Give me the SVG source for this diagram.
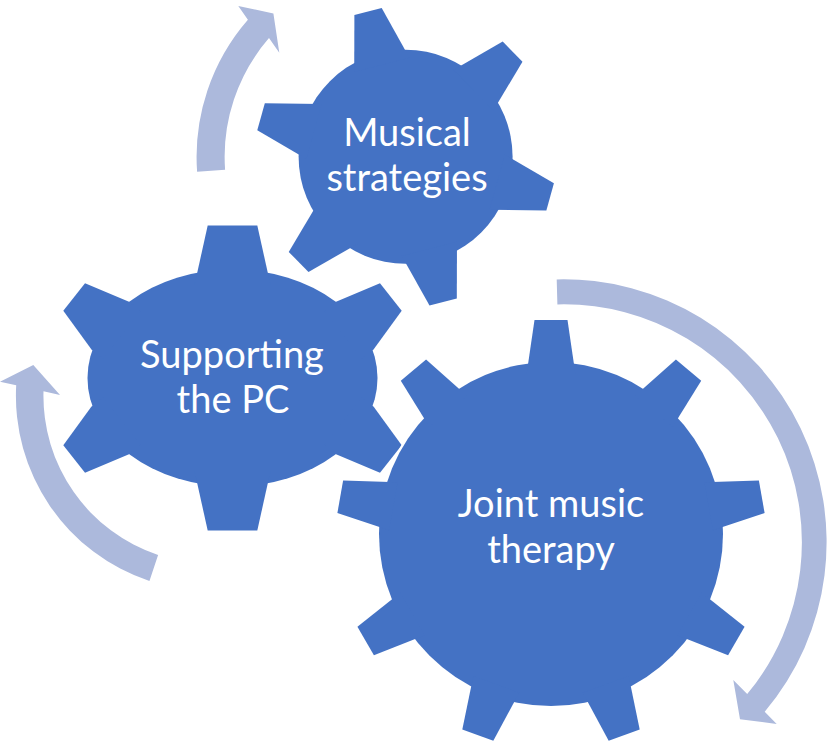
<svg xmlns="http://www.w3.org/2000/svg" xmlns:xlink="http://www.w3.org/1999/xlink" width="829" height="746" viewBox="0 0 829 746">
  <style>
    .outline { fill: #ffffff; stroke: #ffffff; stroke-width: 4; stroke-linejoin: round; }
    .gearfill { fill: #4472C4; stroke: none; }
    .arrow { fill: #ACB9DC; stroke: none; }
    .label { font-family: Lato, "Open Sans", "Liberation Sans", sans-serif; font-size: 38px; fill: #ffffff; text-anchor: middle; }
  </style>
  <defs>
    <path id="tooth9" d="M -16.5 -214 L 16.5 -214 L 24.4 -160 L -24.4 -160 Z"/>
    <path id="tooth6" d="M -14.1 -150 L 14.1 -150 L 28.5 -95 L -28.5 -95 Z"/>
    <g id="gearL">
      <circle cx="0" cy="0" r="172"/>
      <use href="#tooth9"/>
      <use href="#tooth9" transform="rotate(40)"/>
      <use href="#tooth9" transform="rotate(80)"/>
      <use href="#tooth9" transform="rotate(120)"/>
      <use href="#tooth9" transform="rotate(160)"/>
      <use href="#tooth9" transform="rotate(200)"/>
      <use href="#tooth9" transform="rotate(240)"/>
      <use href="#tooth9" transform="rotate(280)"/>
      <use href="#tooth9" transform="rotate(320)"/>
    </g>
    <g id="gearS">
      <circle cx="0" cy="0" r="107"/>
      <use href="#tooth6" transform="rotate(-14.5)"/>
      <use href="#tooth6" transform="rotate(45.5)"/>
      <use href="#tooth6" transform="rotate(105.5)"/>
      <use href="#tooth6" transform="rotate(165.5)"/>
      <use href="#tooth6" transform="rotate(225.5)"/>
      <use href="#tooth6" transform="rotate(285.5)"/>
    </g>
    <g id="gearM">
      <ellipse cx="232.5" cy="378" rx="145" ry="108.5"/>
      <path d="M 207.7 225.5 L 257.3 225.5 L 270.5 285 L 194.5 285 Z"/>
      <path d="M 207.7 530.5 L 257.3 530.5 L 270.5 471 L 194.5 471 Z"/>
      <path d="M 129 301.7 L 85 283.3 L 63.3 310.7 L 91.3 349.3 L 103.1 358.6 L 140.8 311 Z"/>
      <path d="M 336 301.7 L 380 283.3 L 401.7 310.7 L 373.7 349.3 L 361.9 358.6 L 324.2 311 Z"/>
      <path d="M 129 454.3 L 85 472.7 L 63.3 445.3 L 91.3 406.7 L 103.1 397.4 L 140.8 445 Z"/>
      <path d="M 336 454.3 L 380 472.7 L 401.7 445.3 L 373.7 406.7 L 361.9 397.4 L 324.2 445 Z"/>
    </g>
  </defs>

  <g id="connectors">
    <path id="arrow-top" class="arrow" d="M 197.1 171.7 A 209 209 0 0 1 247.9 19.7 L 238.3 6 L 273.4 13.5 L 279.3 52.7 L 269 38.05 A 181 181 0 0 0 225.1 169.7 Z"/>
    <path id="arrow-left" class="arrow" d="M 149.45 581 A 195 195 0 0 1 16.2 385.3 L 0 381.7 L 33.3 365 L 60 395 L 43.5 391.35 A 167.6 167.6 0 0 0 158.1 555 Z"/>
    <path id="arrow-right" class="arrow" d="M 556.7 279.4 A 263 263 0 0 1 764.7 711.8 L 776.7 724 L 740 719.3 L 733.3 680 L 747.2 694.1 A 238 238 0 0 0 557.4 304.4 Z"/>
  </g>

  <g id="node-supporting-the-pc">
    <use href="#gearM" class="outline"/>
    <use href="#gearM" class="gearfill"/>
    <text class="label" x="232" y="368.3">Supporting</text>
    <text class="label" x="233" y="412.7">the PC</text>
  </g>

  <g id="node-musical-strategies">
    <use href="#gearS" class="outline" transform="translate(405.6,156.8)"/>
    <use href="#gearS" class="gearfill" transform="translate(405.6,156.8)"/>
    <text class="label" x="407" y="145.7">Musical</text>
    <text class="label" x="407" y="190.7">strategies</text>
  </g>

  <g id="node-joint-music-therapy">
    <use href="#gearL" class="outline" transform="translate(551,534)"/>
    <use href="#gearL" class="gearfill" transform="translate(551,534)"/>
    <text class="label" x="551" y="517.3">Joint music</text>
    <text class="label" x="551" y="563.3">therapy</text>
  </g>
</svg>
